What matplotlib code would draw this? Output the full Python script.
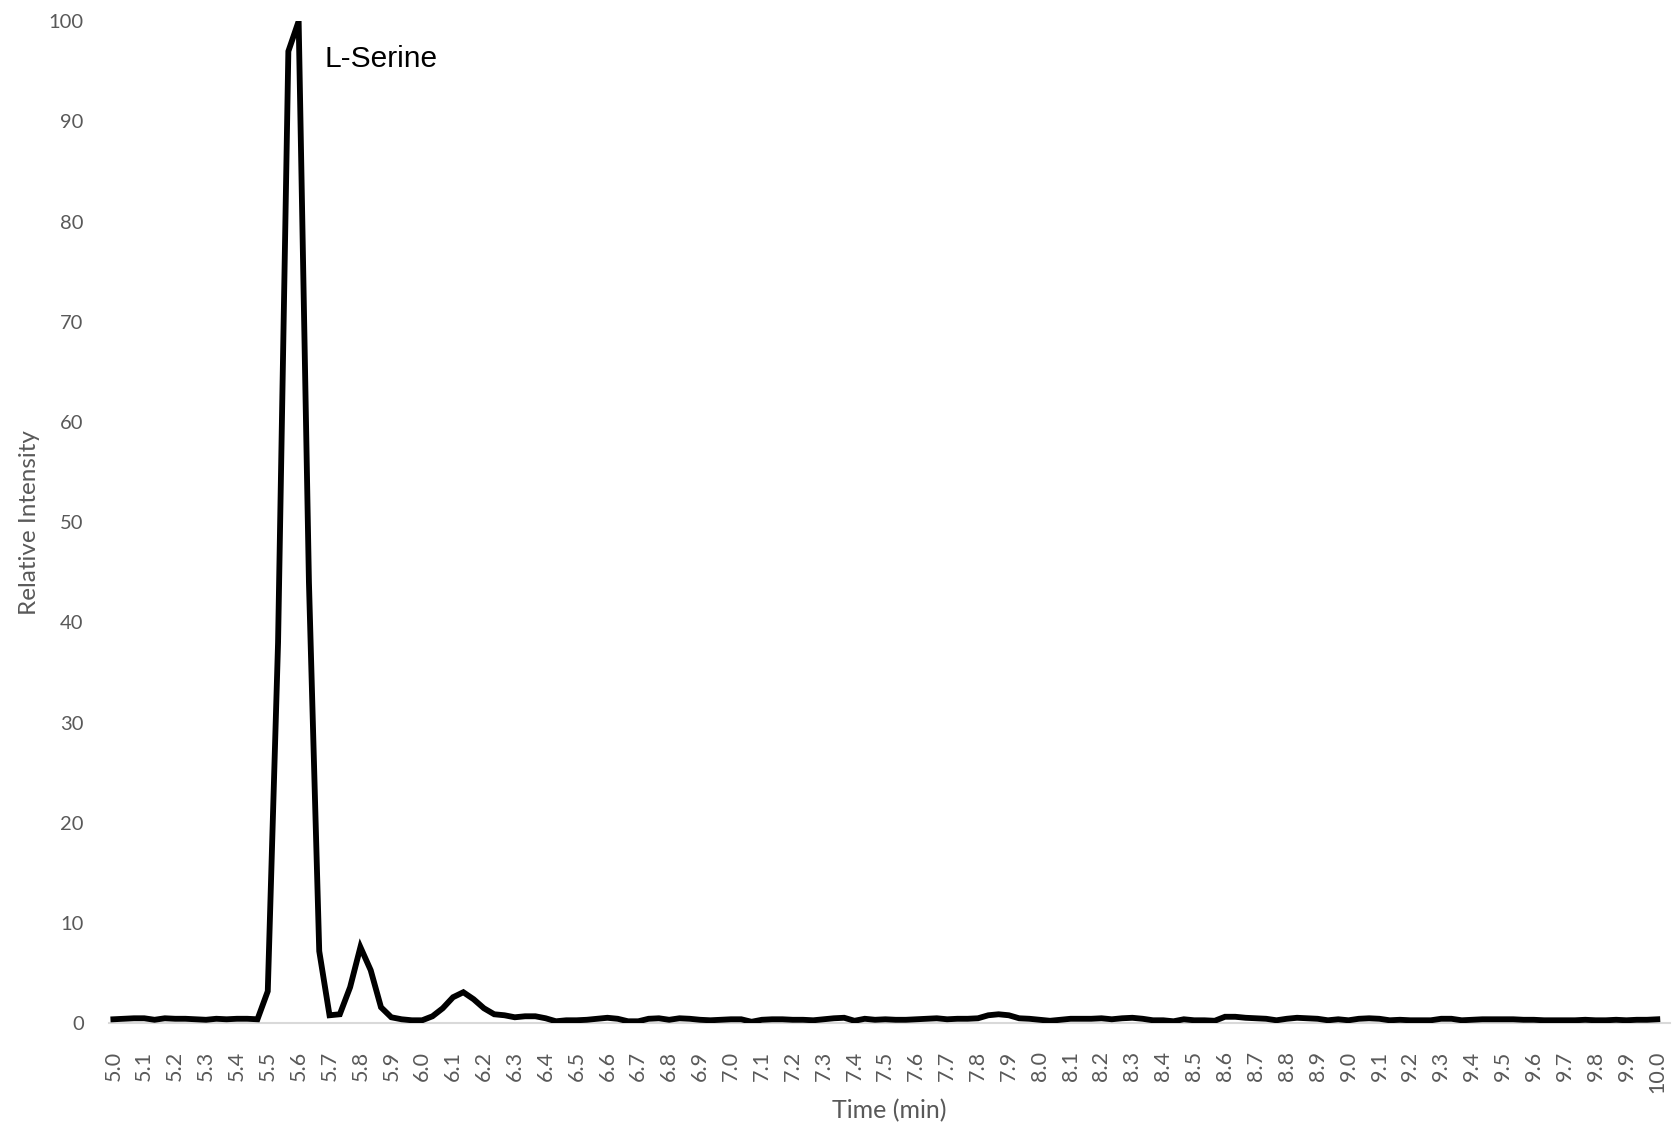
import matplotlib
matplotlib.use("Agg")
import matplotlib.pyplot as plt
import numpy as np

# Retention time grid: one point every 2 s from 5.0 to 10.0 min
time_start = 5.0
time_step = 1 / 30

# Relative intensity (%) of the chromatogram
baseline_before = [0.4, 0.45, 0.5, 0.5, 0.35, 0.5, 0.45, 0.45, 0.4, 0.35,
                   0.45, 0.4, 0.45, 0.45, 0.4]
serine_region = [3.2, 38, 97, 100, 44, 7.2, 0.8, 0.9, 3.6, 7.6,
                 5.3, 1.6, 0.6, 0.4, 0.3, 0.3, 0.7, 1.5, 2.6, 3.1,
                 2.4, 1.5, 0.9, 0.8, 0.6, 0.7, 0.7, 0.5, 0.2]
baseline_after = [0.3, 0.3, 0.35, 0.45, 0.55, 0.45, 0.2, 0.2, 0.45, 0.5,
                  0.35, 0.5, 0.45, 0.35, 0.3, 0.35, 0.4, 0.4, 0.15, 0.35,
                  0.4, 0.4, 0.35, 0.35, 0.3, 0.4, 0.5, 0.55, 0.25, 0.45,
                  0.35, 0.4, 0.35, 0.35, 0.4, 0.45, 0.5, 0.4, 0.45, 0.45,
                  0.5, 0.8, 0.9, 0.8, 0.5, 0.45, 0.35, 0.25, 0.35, 0.45,
                  0.45, 0.45, 0.5, 0.4, 0.5, 0.55, 0.45, 0.3, 0.3, 0.2,
                  0.4, 0.3, 0.3, 0.25, 0.65, 0.65, 0.55, 0.5, 0.45, 0.3,
                  0.45, 0.55, 0.5, 0.45, 0.3, 0.4, 0.3, 0.45, 0.5, 0.45,
                  0.3, 0.35, 0.3, 0.3, 0.3, 0.45, 0.45, 0.3, 0.35, 0.4,
                  0.4, 0.4, 0.4, 0.35, 0.35, 0.3, 0.3, 0.3, 0.3, 0.35,
                  0.3, 0.3, 0.35, 0.3, 0.35, 0.35, 0.4]

intensity = np.array(baseline_before + serine_region + baseline_after)
time_min = time_start + np.arange(len(intensity)) * time_step

x_tick_values = np.round(np.arange(5.0, 10.0001, 0.1), 1)
x_tick_labels = [f"{v:.1f}" for v in x_tick_values]
y_tick_values = list(range(0, 101, 10))

peak_label = "L-Serine"

label_color = "#595959"
font = ["Lato", "DejaVu Sans"]

fig = plt.figure(figsize=(16.73, 11.24), dpi=100)
ax = fig.add_axes([0.065, 0.0896, 0.933, 0.8915])

ax.plot(time_min, intensity, color="black", lw=4.2, solid_joinstyle="miter")

ax.set_xlim(4.985, 10.04)
ax.set_ylim(0, 100)

ax.set_xticks(x_tick_values)
ax.set_xticklabels(x_tick_labels, rotation=90, va="top", ha="center",
                   fontsize=15.5, color=label_color, family=font)
ax.set_yticks(y_tick_values)
ax.set_yticklabels([str(v) for v in y_tick_values], fontsize=14.5,
                   color=label_color, family=font)
ax.tick_params(axis="x", length=0, pad=20)
ax.tick_params(axis="y", length=0, pad=18)

for side in ("top", "right", "left"):
    ax.spines[side].set_visible(False)
ax.spines["bottom"].set_color("#D9D9D9")
ax.spines["bottom"].set_linewidth(1.5)
ax.spines["bottom"].set_zorder(0)

ax.set_xlabel("Time (min)", fontsize=18, color=label_color, family=font,
              labelpad=4)
ax.set_ylabel("Relative Intensity", fontsize=17.5, color=label_color,
              family=font, labelpad=6)

ax.text(5.685, 96.2, peak_label, fontsize=21.5, color="black",
        family=["Liberation Sans", "DejaVu Sans"], va="center", ha="left")

fig.savefig("out.png", dpi=100)
